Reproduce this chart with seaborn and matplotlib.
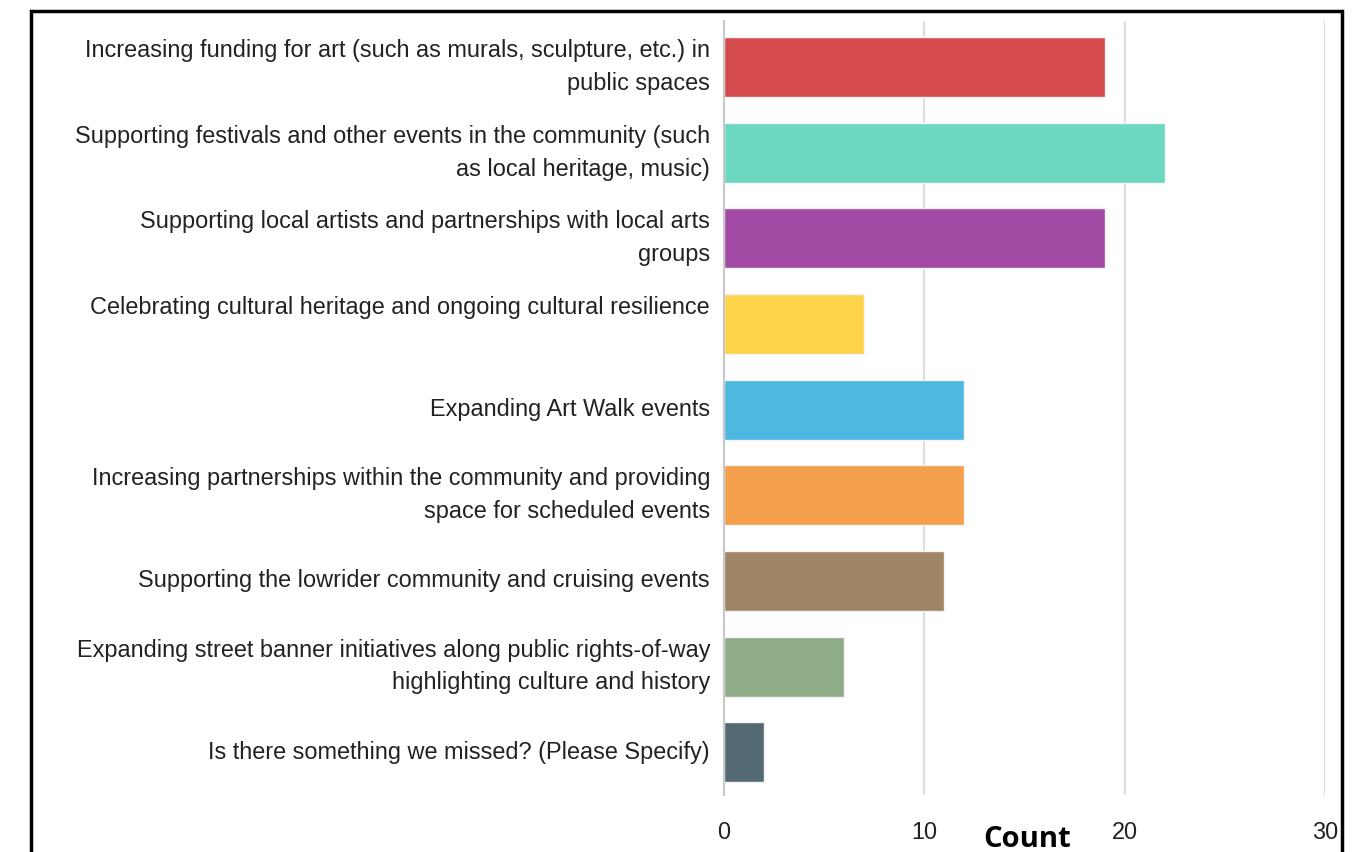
import pandas as pd
import seaborn as sns
import matplotlib.pyplot as plt
from matplotlib.patches import Rectangle

sns.set_theme(style="white")
plt.rcParams['font.family'] = ['Liberation Sans', 'DejaVu Sans']

labels = [
    "Increasing funding for art (such as murals, sculpture, etc.) in\npublic spaces",
    "Supporting festivals and other events in the community (such\nas local heritage, music)",
    "Supporting local artists and partnerships with local arts\ngroups",
    "Celebrating cultural heritage and ongoing cultural resilience\n",
    "Expanding Art Walk events",
    "Increasing partnerships within the community and providing\nspace for scheduled events",
    "Supporting the lowrider community and cruising events",
    "Expanding street banner initiatives along public rights-of-way\nhighlighting culture and history",
    "Is there something we missed? (Please Specify)",
]
counts = [19, 22, 19, 7, 12, 12, 11, 6, 2]
colors = ["#D64B4E", "#6CD8C0", "#A24AA3", "#FED44A", "#4DB8E2",
          "#F49F4C", "#A08466", "#8FAC88", "#546A72"]
xticks = [0, 10, 20, 30]

df = pd.DataFrame({"label": labels, "count": counts})

fig = plt.figure(figsize=(13.59, 8.52), dpi=100)
ax = fig.add_axes([724 / 1359, 1 - 795 / 852, (1325 - 724) / 1359, (795 - 21) / 852])

sns.barplot(data=df, x="count", y="label", hue="label", palette=colors,
            saturation=1, legend=False, orient="h", width=0.7, edgecolor="#f4f4f4",
            linewidth=1, ax=ax, zorder=2)

ax.set_xlim(0, 30)
ax.set_ylim(8.50, -0.537)
ax.set_xticks(xticks)
ax.grid(axis="x", color="#dddddd", linewidth=1.5, zorder=0)
ax.set_axisbelow(True)
for s in ["top", "right", "bottom"]:
    ax.spines[s].set_visible(False)
ax.spines["left"].set_color("#c8c8c8")
ax.spines["left"].set_linewidth(1.5)
ax.tick_params(axis="both", length=0, labelsize=16.9, labelcolor="#222222")
ax.tick_params(axis="x", pad=19)
ax.tick_params(axis="y", pad=10)
for t in ax.get_yticklabels():
    t.set_horizontalalignment("right")
    t.set_verticalalignment("center")
    t.set_multialignment("right")
    t.set_linespacing(1.55)

ax.set_ylabel("")
ax.set_xlabel("Count", fontsize=21, fontweight="bold", family=["Open Sans", "DejaVu Sans"],
              color="black", va="center")
ax.xaxis.set_label_coords(0.504, -0.057)

fig.patches.append(Rectangle((31 / 1359, -0.05), (1342 - 31) / 1359, 1 - 11 / 852 + 0.05,
                             transform=fig.transFigure, fill=False,
                             edgecolor="black", linewidth=2.5, zorder=10))

plt.savefig("out.png", dpi=100)
